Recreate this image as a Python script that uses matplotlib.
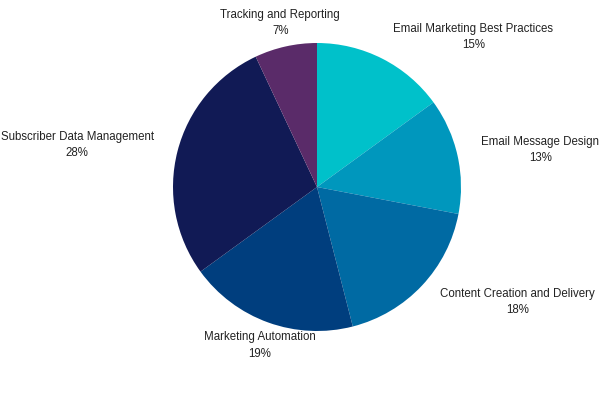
import numpy as np
import matplotlib
matplotlib.use("Agg")
import matplotlib.pyplot as plt

categories = ["Email Marketing Best Practices", "Email Message Design",
              "Content Creation and Delivery", "Marketing Automation",
              "Subscriber Data Management", "Tracking and Reporting"]
values = [15, 13, 18, 19, 28, 7]
colors = ["#00C1CA", "#0097BD", "#006AA3", "#003E7E", "#111A55", "#5A2B69"]

plt.rcParams['font.family'] = ['Liberation Sans', 'DejaVu Sans']

fig = plt.figure(figsize=(6, 4), dpi=100)
cx, cy, r = 317, 187, 144
ax = fig.add_axes([(cx - r) / 600, (400 - cy - r) / 400, 2 * r / 600, 2 * r / 400])
wedges, _ = ax.pie(values, colors=colors, startangle=90, counterclock=False,
                   radius=1, wedgeprops=dict(linewidth=0))
ax.set_xlim(-1, 1)
ax.set_ylim(-1, 1)
ax.set_aspect('equal')
ax.axis('off')

total = sum(values)
dist = 1.17
for w, name, v in zip(wedges, categories, values):
    ang = np.deg2rad((w.theta1 + w.theta2) / 2)
    x, y = dist * np.cos(ang), dist * np.sin(ang)
    c = np.cos(ang)
    if abs(c) < 0.4:
        ha = 'center'
    elif c > 0:
        ha = 'left'
    else:
        ha = 'right'
    ax.text(x, y, f"{name}\n{round(100 * v / total)}%", ha=ha, va='center',
            multialignment='center', fontsize=8.3, color='#222222',
            linespacing=1.45, clip_on=False)

fig.savefig("out.png", dpi=100)
